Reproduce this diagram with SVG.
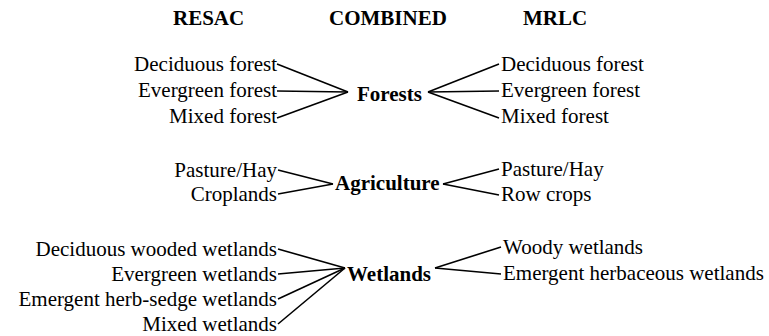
<svg xmlns="http://www.w3.org/2000/svg" width="769" height="336" viewBox="0 0 769 336">
<style>
text{font-family:"Liberation Serif","Times New Roman",serif;font-size:21px;fill:#000}
.h{font-weight:bold}
.b{font-weight:bold}
.l{text-anchor:end}
#connectors line{stroke:#000;stroke-width:1.6}
</style>
<rect width="769" height="336" fill="#fff"/>
<g id="headers">
<text class="h" x="173" y="25">RESAC</text>
<text class="h" x="329" y="25">COMBINED</text>
<text class="h" x="523" y="25">MRLC</text>
</g>
<g id="connectors">
<line x1="277" y1="64" x2="348" y2="92"/>
<line x1="277" y1="91" x2="348" y2="92"/>
<line x1="277" y1="118" x2="348" y2="92"/>
<line x1="428" y1="92" x2="499" y2="64"/>
<line x1="428" y1="92" x2="499" y2="91"/>
<line x1="428" y1="92" x2="499" y2="118"/>
<line x1="278" y1="170" x2="333" y2="184"/>
<line x1="278" y1="194" x2="333" y2="184"/>
<line x1="443" y1="184" x2="499" y2="169"/>
<line x1="443" y1="184" x2="499" y2="195"/>
<line x1="278" y1="249" x2="345" y2="268"/>
<line x1="278" y1="274" x2="345" y2="268"/>
<line x1="278" y1="299" x2="345" y2="268"/>
<line x1="278" y1="324" x2="345" y2="268"/>
<line x1="435" y1="268" x2="501" y2="247"/>
<line x1="435" y1="268" x2="501" y2="274"/>
</g>
<g id="resac-forest">
<text class="l" x="277" y="71">Deciduous forest</text>
<text class="l" x="277" y="97">Evergreen forest</text>
<text class="l" x="277" y="123">Mixed forest</text>
</g>
<g id="forests"><text class="b" x="357" y="101">Forests</text></g>
<g id="mrlc-forest">
<text x="501" y="71">Deciduous forest</text>
<text x="501" y="97">Evergreen forest</text>
<text x="501" y="123">Mixed forest</text>
</g>
<g id="resac-agri">
<text class="l" x="277" y="177">Pasture/Hay</text>
<text class="l" x="277" y="201">Croplands</text>
</g>
<g id="agriculture"><text class="b" x="335" y="190">Agriculture</text></g>
<g id="mrlc-agri">
<text x="501" y="176">Pasture/Hay</text>
<text x="501" y="201">Row crops</text>
</g>
<g id="resac-wet">
<text class="l" x="277" y="256">Deciduous wooded wetlands</text>
<text class="l" x="277" y="281">Evergreen wetlands</text>
<text class="l" x="277" y="306">Emergent herb-sedge wetlands</text>
<text class="l" x="277" y="331">Mixed wetlands</text>
</g>
<g id="wetlands"><text class="b" x="347" y="281">Wetlands</text></g>
<g id="mrlc-wet">
<text x="503" y="254">Woody wetlands</text>
<text x="503" y="280">Emergent herbaceous wetlands</text>
</g>
</svg>
